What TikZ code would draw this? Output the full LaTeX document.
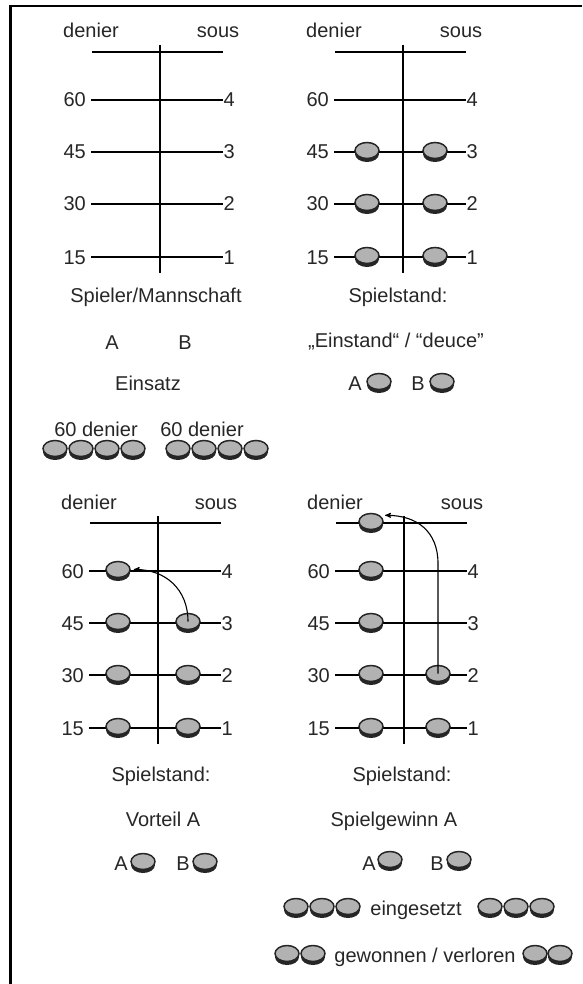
\documentclass[tikz,border=0pt]{standalone}
\usepackage{fontspec}
\setmainfont{Liberation Sans}
\usetikzlibrary{arrows, shapes.geometric, shadows}

\begin{document}
\begin{tikzpicture}[x=1pt,y=-1pt,>=stealth',
  font=\fontsize{20}{24}\selectfont, text=black!85,
  every node/.append style={text height=14pt,text depth=0pt},
  coin/.style={ellipse,draw=black!85,line width=1.5pt,fill=gray!60,
    minimum width=24pt,minimum height=16pt,inner sep=0pt,text height=0pt,
    yshift=1.5pt,
    drop shadow={shadow xshift=0pt,shadow yshift=-3.5pt,fill=black!85,opacity=1}},
  level line/.style={line width=1.4pt},
  move/.style={->,line width=1.1pt}]

  \useasboundingbox (0,0) rectangle (582,984);
  \draw[line width=2.5pt] (582,6) -- (10.5,6) -- (10.5,984);

  % the four score boards
  \foreach \p/\cx/\cy in {a/160/0, b/403/0, c/158/471, d/404/471} {
    \begin{scope}[shift={(\cx,\cy)}]
      \node (den-\p) at (-69,31) {denier};
      \node (sous-\p) at (58,31) {sous};
      \draw[level line] (-68,52) -- (63,52);
      \draw[line width=1.6pt] (0,45) -- (0,273);
      \foreach \d/\s/\ly in {60/4/100, 45/3/152, 30/2/204, 15/1/257} {
        \node[anchor=east,inner xsep=5pt,inner ysep=0pt] (\p-\d) at (-69,\ly) {\d};
        \node[anchor=west,inner sep=0.5pt] (\p-s\s) at (63,\ly) {\s};
        \draw[level line] (\p-\d.east) -- (\p-s\s.west);
      }
    \end{scope}
  }

  \foreach \d/\ly in {45/152, 30/204, 15/257} {
    \node[coin] (b-l\d) at (367,\ly) {};
    \node[coin] (b-r\d) at (435,\ly) {};
  }
  \foreach \d/\ly in {60/571, 45/623, 30/675, 15/728}
    \node[coin] (c-l\d) at (118,\ly) {};
  \foreach \d/\ly in {45/623, 30/675, 15/728}
    \node[coin] (c-r\d) at (188,\ly) {};
  \foreach \d/\ly in {top/523, 60/571, 45/623, 30/675, 15/728}
    \node[coin] (d-l\d) at (371,\ly) {};
  \foreach \d/\ly in {30/675, 15/728}
    \node[coin] (d-r\d) at (438,\ly) {};

  \draw[move] (c-r45.center) .. controls +(0,-32) and +(32,0) .. ([xshift=3pt]c-l60.east);
  \draw[move] (d-r30.center) -- ++(0,-110) .. controls +(0,-32) and +(32,0) .. ([xshift=5pt]d-ltop.north east);

  % texts under the boards
  \node (spieler) at (156,295) {Spieler/Mannschaft};
  \node (plA) at (112,342) {A};
  \node (plB) at (185,342) {B};
  \node (einsatz) at (148,383) {Einsatz};
  \node (stakeA) at (96,429) {60 denier};
  \node (stakeB) at (202,429) {60 denier};
  \foreach \i/\x in {1/55, 2/81, 3/107, 4/133, 5/178, 6/204, 7/230, 8/256}
    \node[coin] (stake\i) at (\x,450) {};

  \node (stand1) at (398,295) {Spielstand:};
  \node (deuce) at (396,340) {„Einstand“ / “deuce”};
  \node (deuceA) at (355,383) {A};
  \node[coin] (deuceAc) at (379,383) {};
  \node (deuceB) at (418,383) {B};
  \node[coin] (deuceBc) at (442,383) {};

  \node (stand2) at (161,774) {Spielstand:};
  \node (vorteil) at (163,819) {Vorteil A};
  \node (vorA) at (121,863) {A};
  \node[coin] (vorAc) at (143,863) {};
  \node (vorB) at (183,863) {B};
  \node[coin] (vorBc) at (205,863) {};

  \node (stand3) at (402,774) {Spielstand:};
  \node (gewinn) at (394,819) {Spielgewinn A};
  \node (winA) at (369,863) {A};
  \node[coin] (winAc) at (390,861) {};
  \node (winB) at (437,863) {B};
  \node[coin] (winBc) at (459,861) {};

  \node (einges) at (416,908) {eingesetzt};
  \foreach \i/\x in {1/296, 2/322, 3/348, 4/490, 5/516, 6/542}
    \node[coin] (set\i) at (\x,908) {};
  \node (gewonnen) at (425,955) {gewonnen / verloren};
  \foreach \i/\x in {1/287, 2/313, 3/535, 4/560}
    \node[coin] (won\i) at (\x,955) {};
\end{tikzpicture}
\end{document}
